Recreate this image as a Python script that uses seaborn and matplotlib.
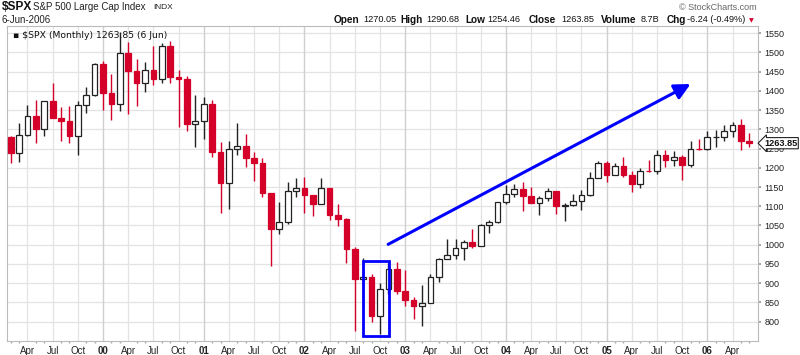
import matplotlib
matplotlib.use("Agg")
import matplotlib.pyplot as plt
import seaborn as sns
import pandas as pd
import numpy as np

# ---------------- data (monthly, Feb 1999 .. Jun 2006) ----------------
months = pd.date_range("1999-02-01", periods=89, freq="MS")

opens = [
    1279.6, 1238.3, 1286.4, 1335.2, 1301.8, 1372.7, 1328.7, 1320.4, 1282.7, 1362.9, 1388.9,
    1469.3, 1394.5, 1366.4, 1498.6, 1452.4, 1420.6, 1454.6, 1430.8, 1517.7, 1436.5, 1429.4, 1315.0,
    1320.3, 1366.0, 1239.9, 1160.3, 1249.5, 1255.8, 1224.4, 1211.2, 1133.6, 1040.9, 1059.8, 1139.5,
    1148.1, 1130.2, 1106.7, 1147.4, 1076.9, 1067.1, 989.8, 911.6, 916.1, 815.3, 885.8, 936.3,
    879.8, 855.7, 841.2, 848.2, 916.9, 963.6, 974.5, 990.3, 1008.0, 996.0, 1050.7, 1058.2,
    1111.9, 1131.1, 1144.9, 1126.2, 1107.3, 1120.7, 1140.8, 1101.7, 1104.2, 1114.6, 1130.2, 1173.8,
    1211.9, 1181.3, 1203.6, 1180.6, 1156.9, 1191.5, 1191.3, 1234.2, 1220.3, 1228.8, 1207.0, 1249.5,
    1248.3, 1280.1, 1280.7, 1294.8, 1310.6, 1270.05,
]
closes = [
    1238.3, 1286.4, 1335.2, 1301.8, 1372.7, 1328.7, 1320.4, 1282.7, 1362.9, 1388.9, 1469.3,
    1394.5, 1366.4, 1498.6, 1452.4, 1420.6, 1454.6, 1430.8, 1517.7, 1436.5, 1429.4, 1315.0, 1320.3,
    1366.0, 1239.9, 1160.3, 1249.5, 1255.8, 1224.4, 1211.2, 1133.6, 1040.9, 1059.8, 1139.5, 1148.1,
    1130.2, 1106.7, 1147.4, 1076.9, 1067.1, 989.8, 911.6, 916.1, 815.3, 885.8, 936.3, 879.8,
    855.7, 841.2, 848.2, 916.9, 963.6, 974.5, 990.3, 1008.0, 996.0, 1050.7, 1058.2, 1111.9,
    1131.1, 1144.9, 1126.2, 1107.3, 1120.7, 1140.8, 1101.7, 1104.2, 1114.6, 1130.2, 1173.8, 1211.9,
    1181.3, 1203.6, 1180.6, 1156.9, 1191.5, 1191.3, 1234.2, 1220.3, 1228.8, 1207.0, 1249.5, 1248.3,
    1280.1, 1280.7, 1294.8, 1310.6, 1270.1, 1263.85,
]
highs = [
    1281.7, 1316.6, 1362.8, 1376.0, 1372.9, 1420.3, 1357.0, 1361.0, 1373.0, 1410.0, 1473.0,
    1478.0, 1444.6, 1552.9, 1527.2, 1481.5, 1474.6, 1517.3, 1525.2, 1530.0, 1454.0, 1438.0, 1389.0,
    1383.0, 1376.4, 1267.4, 1269.3, 1315.9, 1286.6, 1239.8, 1226.3, 1134.0, 1110.6, 1163.0, 1173.0,
    1176.6, 1130.2, 1173.0, 1147.8, 1106.6, 1070.7, 994.5, 965.0, 924.0, 901.0, 951.6, 954.3,
    935.0, 864.6, 895.9, 924.0, 965.4, 1015.3, 1015.4, 1011.0, 1040.0, 1053.8, 1063.4, 1112.0,
    1155.4, 1159.0, 1163.2, 1150.6, 1127.7, 1146.2, 1140.8, 1109.7, 1131.5, 1142.0, 1188.5, 1217.9,
    1217.8, 1212.4, 1229.1, 1191.9, 1199.6, 1219.6, 1245.2, 1245.9, 1243.1, 1233.3, 1270.6, 1275.8,
    1294.9, 1297.6, 1310.9, 1318.2, 1326.7, 1290.68,
]
lows = [
    1211.9, 1216.0, 1282.5, 1263.1, 1281.4, 1328.7, 1268.7, 1263.6, 1233.7, 1342.0, 1387.0,
    1350.0, 1325.0, 1346.6, 1339.4, 1361.1, 1398.0, 1416.0, 1421.0, 1419.0, 1305.8, 1294.9, 1254.0,
    1274.6, 1228.0, 1081.2, 1092.0, 1232.0, 1203.0, 1165.5, 1124.9, 944.8, 1026.8, 1054.3, 1124.0,
    1081.7, 1074.4, 1105.0, 1063.0, 1049.0, 952.9, 775.7, 833.4, 800.2, 768.6, 872.2, 871.9,
    840.0, 806.3, 788.9, 847.8, 902.8, 963.6, 962.1, 960.8, 990.4, 995.9, 1031.0, 1055.5,
    1105.0, 1124.4, 1087.2, 1107.2, 1076.3, 1113.3, 1078.8, 1060.7, 1101.3, 1090.2, 1127.6, 1173.8,
    1163.8, 1181.0, 1176.9, 1136.2, 1146.2, 1188.3, 1183.6, 1201.0, 1205.4, 1168.2, 1201.0, 1246.6,
    1245.7, 1253.6, 1268.4, 1280.7, 1245.3, 1254.46,
]

y_ticks = list(range(800, 1551, 50))
month_names = {1: None, 4: "Apr", 7: "Jul", 10: "Oct"}

# ---------------- styling ----------------
sns.set_theme(style="white")
plt.rcParams["font.family"] = ["Liberation Sans", "DejaVu Sans"]

RED = "#d4002a"
df = pd.DataFrame({"date": months, "open": opens, "high": highs,
                   "low": lows, "close": closes})
df["m"] = (df["date"].dt.year - 1999) * 12 + df["date"].dt.month - 1
df["up"] = df["close"] >= df["open"]

W, H = 800, 355
fig = plt.figure(figsize=(W / 100, H / 100), dpi=100)
ax = fig.add_axes([7 / W, 14.3 / H, 750.7 / W, 314.7 / H])
ax.set_xlim(0.56, 90.0)
ax.set_ylim(750.6, 1568.4)

# grid
for v in y_ticks:
    ax.axhline(v, color="#e3e3e3", lw=0.9, zorder=0)
q_pos, q_lab = [], []
for m in range(3, 88):
    mon = m % 12 + 1
    if mon in month_names:
        q_pos.append(m)
        if mon == 1:
            q_lab.append(f"{(1999 + m // 12) % 100:02d}")
            ax.axvline(m, color="#cfcfcf", lw=1.0, zorder=0)
        else:
            q_lab.append(month_names[mon])
            ax.axvline(m, color="#e3e3e3", lw=0.9, zorder=0)

# candles
for up, wc, fc, ec in [(True, "#222222", "white", "#222222"), (False, RED, RED, RED)]:
    sub = df[df["up"] == up]
    ax.vlines(sub["m"], sub["low"], sub["high"], color=wc, lw=1.0, zorder=2)
    ax.bar(sub["m"], (sub["close"] - sub["open"]).abs().clip(lower=0.8),
           bottom=np.minimum(sub["open"], sub["close"]), width=0.68,
           color=fc, edgecolor=ec, linewidth=0.9, zorder=3)

# axes ticks
ax.set_xticks(q_pos)
ax.set_xticklabels(q_lab, fontsize=7)
for t, lab in zip(ax.get_xticklabels(), q_lab):
    if lab.isdigit():
        t.set_fontweight("bold")
ax.set_xticks(range(1, 90), minor=True)
ax.tick_params(axis="x", which="major", length=2, color="#999999", pad=2)
ax.tick_params(axis="x", which="minor", length=1.5, color="#aaaaaa", bottom=True)
ax.yaxis.tick_right()
ax.set_yticks(y_ticks)
ax.set_yticklabels([str(v) for v in y_ticks], fontsize=6.5, color="#222222")
ax.tick_params(axis="y", length=2, color="#999999", pad=3, right=True)
for s in ax.spines.values():
    s.set_color("#bbbbbb")
    s.set_linewidth(0.8)

# annotations: blue box + arrow
ax.add_patch(plt.Rectangle((43.0, 763.6), 3.1, 194.1, fill=False,
                           edgecolor="#0000ff", lw=2.0, zorder=5))
ax.annotate("", xy=(82.0, 1417.7), xytext=(45.97, 1001),
            arrowprops=dict(arrowstyle="-|>,head_length=0.8,head_width=0.4",
                            color="#0000ff", lw=2.2, mutation_scale=12,
                            shrinkA=0, shrinkB=0), zorder=5)

# legend text inside plot
ax.text(0.0075, 0.985, "\u25AA $SPX (Monthly) 1263.85 (6 Jun)", transform=ax.transAxes,
        ha="left", va="top", fontsize=6.7, family="DejaVu Sans", color="#111111")

# last price label
ax.annotate("1263.85", xy=(1.0, 1263.85), xycoords=("axes fraction", "data"),
            xytext=(4.5, 0), textcoords="offset points", ha="left", va="center",
            fontsize=6.6, fontweight="bold", color="#111111", zorder=10,
            bbox=dict(boxstyle="larrow,pad=0.12", fc="white", ec="#222222", lw=0.8),
            annotation_clip=False)

# header
def ftxt(x, y, s, **kw):
    fig.text(x / W, 1 - y / H, s, va="center", **kw)

ftxt(2, 7, "$SPX", fontsize=8.6, fontweight="bold", color="#111111")
ftxt(33, 7.5, "S&P 500 Large Cap Index", fontsize=7, color="#222222")
ftxt(153, 7.5, "INDX", fontsize=6, color="#222222")
ftxt(2, 20, "6-Jun-2006", fontsize=7, color="#222222")
ftxt(757, 7.5, "\u00a9 StockCharts.com", fontsize=6.5, color="#666666", ha="right")

parts = [(333.3, "Open", True), (363.3, "1270.05", False),
         (400.0, "High", True), (426.0, "1290.68", False),
         (465.0, "Low", True), (487.3, "1254.46", False),
         (528.3, "Close", True), (561.0, "1263.85", False),
         (601.0, "Volume", True), (640.7, "8.7B", False),
         (666.7, "Chg", True), (687.0, "-6.24 (-0.49%)", False)]
for x, s, b in parts:
    ftxt(x, 20, s, fontsize=7.2 if b else 6.6,
         fontweight="bold" if b else "normal", color="#111111")
ftxt(749, 20.5, "\u25BC", fontsize=4.5, color=RED, family="DejaVu Sans")

fig.savefig("out.png", dpi=100)
